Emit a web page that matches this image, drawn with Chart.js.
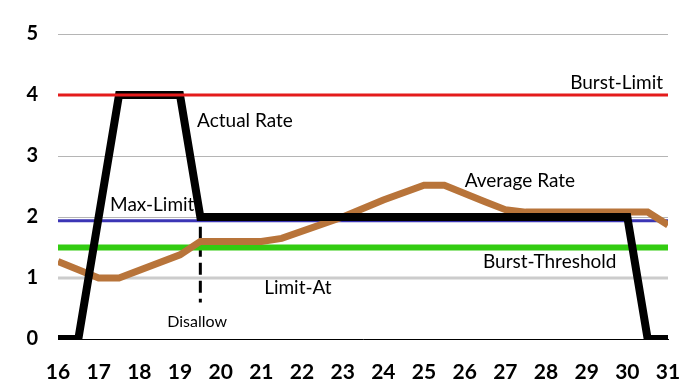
<!DOCTYPE html>
<html>
<head>
<meta charset="utf-8">
<script src="https://cdn.jsdelivr.net/npm/chart.js@4"></script>
<style>
  html, body { margin: 0; padding: 0; background: #fff; }
  #wrap { width: 687px; height: 388px; }
</style>
</head>
<body>
<div id="wrap"><canvas id="chart"></canvas></div>
<script>
'use strict';

// time axis (minutes) and rate values
const actualX = [16, 16.5, 17.5, 19, 19.5, 30, 30.5, 31];
const actualY = [0, 0, 4, 4, 2, 2, 0, 0];

const averageX = [16, 17, 17.5, 19, 19.5, 21, 21.5, 23, 24, 25, 25.5, 26.5, 27, 27.5, 30.5, 31];
const averageY = [1.27, 1.0, 1.0, 1.38, 1.6, 1.6, 1.65, 2.0, 2.28, 2.52, 2.52, 2.25, 2.12, 2.08, 2.08, 1.87];

const burstLimit = 4;
const maxLimit = 1.94;
const burstThreshold = 1.5;
const limitAt = 1;

const disallowX = 19.5;
const disallowY = [1.84, 0.6];

const xTicks = [16, 31];
const yTicks = [0, 5];

function toPoints(xs, ys) {
    return xs.map((x, i) => ({ x: x, y: ys[i] }));
}

function flat(value) {
    return [{ x: xTicks[0], y: value }, { x: xTicks[1], y: value }];
}

const labelFont = '19px Lato, "DejaVu Sans", sans-serif';

// text annotations, placed at data coordinates
const annotations = [
    { text: 'Burst-Limit', x: 30.88, y: 4.2, align: 'right', font: labelFont },
    { text: 'Actual Rate', x: 19.42, y: 3.58, align: 'left', font: labelFont },
    { text: 'Max-Limit', x: 17.28, y: 2.2, align: 'left', font: labelFont },
    { text: 'Average Rate', x: 26.0, y: 2.6, align: 'left', font: labelFont },
    { text: 'Burst-Threshold', x: 26.45, y: 1.26, align: 'left', font: labelFont },
    { text: 'Limit-At', x: 21.07, y: 0.84, align: 'left', font: labelFont },
    { text: 'Disallow', x: 19.42, y: 0.28, align: 'center', font: '16px Lato, "DejaVu Sans", sans-serif' }
];

const textPlugin = {
    id: 'texts',
    afterDatasetsDraw(chart) {
        const ctx = chart.ctx;
        const sx = chart.scales.x;
        const sy = chart.scales.y;
        ctx.save();
        ctx.fillStyle = '#000';
        ctx.textBaseline = 'middle';
        annotations.forEach(a => {
            ctx.font = a.font;
            ctx.textAlign = a.align;
            ctx.fillText(a.text, sx.getPixelForValue(a.x), sy.getPixelForValue(a.y));
        });
        ctx.restore();
    }
};

const base = { fill: false, pointRadius: 0, tension: 0, borderCapStyle: 'butt', borderJoinStyle: 'miter' };

new Chart(document.getElementById('chart'), {
    type: 'line',
    data: {
        datasets: [
            Object.assign({}, base, { label: 'Burst-Limit', data: flat(burstLimit), borderColor: '#e41b1b', borderWidth: 3, order: 0 }),
            Object.assign({}, base, { label: 'Actual Rate', data: toPoints(actualX, actualY), borderColor: '#000000', borderWidth: 8, order: 1 }),
            Object.assign({}, base, { label: 'Average Rate', data: toPoints(averageX, averageY), borderColor: '#b8743a', borderWidth: 7, order: 2 }),
            Object.assign({}, base, { label: 'Max-Limit', data: flat(maxLimit), borderColor: '#3b35b5', borderWidth: 3, order: 3 }),
            Object.assign({}, base, { label: 'Burst-Threshold', data: flat(burstThreshold), borderColor: '#33cc11', borderWidth: 6, order: 4 }),
            Object.assign({}, base, { label: 'Limit-At', data: flat(limitAt), borderColor: '#cccccc', borderWidth: 3, order: 5 }),
            Object.assign({}, base, { label: 'Disallow', data: [{ x: disallowX, y: disallowY[0] }, { x: disallowX, y: disallowY[1] }], borderColor: '#000000', borderWidth: 3, borderDash: [12, 6], order: 6 })
        ]
    },
    options: {
        responsive: true,
        maintainAspectRatio: false,
        animation: false,
        layout: { padding: { top: 34, right: 19, left: 0, bottom: 0 } },
        plugins: {
            legend: { display: false },
            tooltip: { enabled: false }
        },
        scales: {
            x: {
                type: 'linear',
                min: xTicks[0],
                max: xTicks[1],
                ticks: {
                    stepSize: 1,
                    color: '#000',
                    padding: 21,
                    font: { family: 'Lato', size: 21, weight: 'bold' }
                },
                grid: { display: false, drawTicks: false },
                border: { display: true, color: '#000', width: 1 },
                afterFit: (scale) => {
                    scale.height = 49;
                    scale.paddingRight = 0;
                    scale.paddingLeft = 0;
                }
            },
            y: {
                min: yTicks[0],
                max: yTicks[1],
                ticks: {
                    stepSize: 1,
                    color: '#000',
                    padding: 20,
                    font: { family: 'Lato', size: 20, weight: 'bold' }
                },
                grid: { color: '#b5b5b5', lineWidth: 1, drawTicks: false },
                border: { display: false },
                afterFit: (scale) => { scale.width = 58; }
            }
        }
    },
    plugins: [textPlugin]
});
</script>
</body>
</html>
